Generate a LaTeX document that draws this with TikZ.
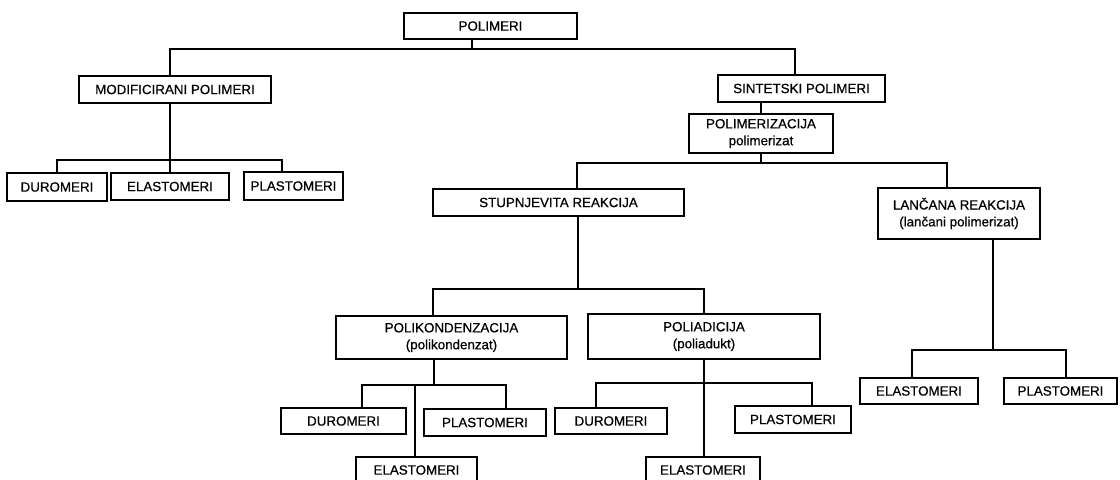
\documentclass[tikz,border=0pt]{standalone}
\usepackage{fontspec}
\setmainfont{Liberation Sans}[UprightFeatures={FakeBold=0.6}]
\usepackage{tikz}
\usetikzlibrary{calc}

\tikzset{
  box/.style={draw, line width=1.5pt, align=center, inner sep=0pt,
    font=\fontsize{9.5}{12}\selectfont},
  wh/.style 2 args={minimum width=#1*0.025cm, minimum height=#2*0.025cm},
  wire/.style={line width=1.5pt}
}

\begin{document}
\begin{tikzpicture}[x=0.025cm, y=-0.025cm]
            \clip (0,0) rectangle (1120,480);
            % top level
            \node[box, wh={173}{26}] (pol) at (490.5,26) {POLIMERI};
            \node[box, wh={192}{27}] (mod) at (175,89.5) {MODIFICIRANI POLIMERI};
            \node[box, wh={167}{27}] (sin) at (801.5,88.5) {SINTETSKI POLIMERI};
            % modificirani
            \node[box, wh={100}{28}] (dur1) at (57,187) {DUROMERI};
            \node[box, wh={118}{27}] (ela1) at (170,186.5) {ELASTOMERI};
            \node[box, wh={99}{28}] (pla1) at (293.5,186) {PLASTOMERI};
            % sintetski
            \node[box, wh={144}{39}] (polz) at (761,133.5) {POLIMERIZACIJA\\polimerizat};
            \node[box, wh={251}{27}] (stu) at (558.5,202.5) {STUPNJEVITA REAKCIJA};
            \node[box, wh={162}{51}] (lan) at (959,213.5) {LANČANA REAKCIJA\\(lančani polimerizat)};
            \node[box, wh={231}{43}] (pk) at (451.5,337.5) {POLIKONDENZACIJA\\(polikondenzat)};
            \node[box, wh={232}{45}] (pa) at (704,336.5) {POLIADICIJA\\(poliadukt)};
            \node[box, wh={125}{26}] (dur2) at (343.5,421) {DUROMERI};
            \node[box, wh={122}{27}] (pla2) at (485,422.5) {PLASTOMERI};
            \node[box, wh={121}{26}] (ela2) at (416.5,470) {ELASTOMERI};
            \node[box, wh={112}{26}] (dur3) at (611,421) {DUROMERI};
            \node[box, wh={116}{27}] (pla3) at (793,419.5) {PLASTOMERI};
            \node[box, wh={114}{26}] (ela3) at (703,470) {ELASTOMERI};
            \node[box, wh={118}{26}] (ela4) at (919,391) {ELASTOMERI};
            \node[box, wh={113}{26}] (pla4) at (1060.5,391) {PLASTOMERI};
            % bus points
            \coordinate (b0) at (472,49);
            \coordinate (b0l) at (170,49);
            \coordinate (b0r) at (795,49);
            \coordinate (b1) at (170,160);
            \coordinate (b1l) at (57,160);
            \coordinate (b1r) at (282,160);
            \coordinate (b2) at (761,163);
            \coordinate (b2l) at (577,163);
            \coordinate (b2r) at (947,163);
            \coordinate (b3) at (578,289);
            \coordinate (b3l) at (433,289);
            \coordinate (b3r) at (704,289);
            \coordinate (b4) at (434,385);
            \coordinate (b4m) at (415,385);
            \coordinate (b4l) at (362,385);
            \coordinate (b4r) at (506,385);
            \coordinate (b5) at (704,383);
            \coordinate (b5l) at (596,383);
            \coordinate (b5r) at (812,383);
            \coordinate (b6) at (993,350);
            \coordinate (b6l) at (912,350);
            \coordinate (b6r) at (1066,350);
            % connectors
            \draw[wire] (pol.south -| b0) -- (b0);
            \draw[wire] (mod.north -| b0l) -- (b0l) -- (b0r) -- (sin.north -| b0r);
            \draw[wire] (mod.south -| b1) -- (ela1.north -| b1);
            \draw[wire] (dur1.north -| b1l) -- (b1l) -- (b1r) -- (pla1.north -| b1r);
            \draw[wire] (sin.south -| b2) -- (polz.north -| b2);
            \draw[wire] (polz.south -| b2) -- (b2);
            \draw[wire] (stu.north -| b2l) -- (b2l) -- (b2r) -- (lan.north -| b2r);
            \draw[wire] (stu.south -| b3) -- (b3);
            \draw[wire] (pk.north -| b3l) -- (b3l) -- (b3r) -- (pa.north -| b3r);
            \draw[wire] (pk.south -| b4) -- (b4);
            \draw[wire] (dur2.north -| b4l) -- (b4l) -- (b4r) -- (pla2.north -| b4r);
            \draw[wire] (b4m) -- (ela2.north -| b4m);
            \draw[wire] (pa.south -| b5) -- (ela3.north -| b5);
            \draw[wire] (dur3.north -| b5l) -- (b5l) -- (b5r) -- (pla3.north -| b5r);
            \draw[wire] (lan.south -| b6) -- (b6);
            \draw[wire] (ela4.north -| b6l) -- (b6l) -- (b6r) -- (pla4.north -| b6r);
        \end{tikzpicture}
\end{document}
